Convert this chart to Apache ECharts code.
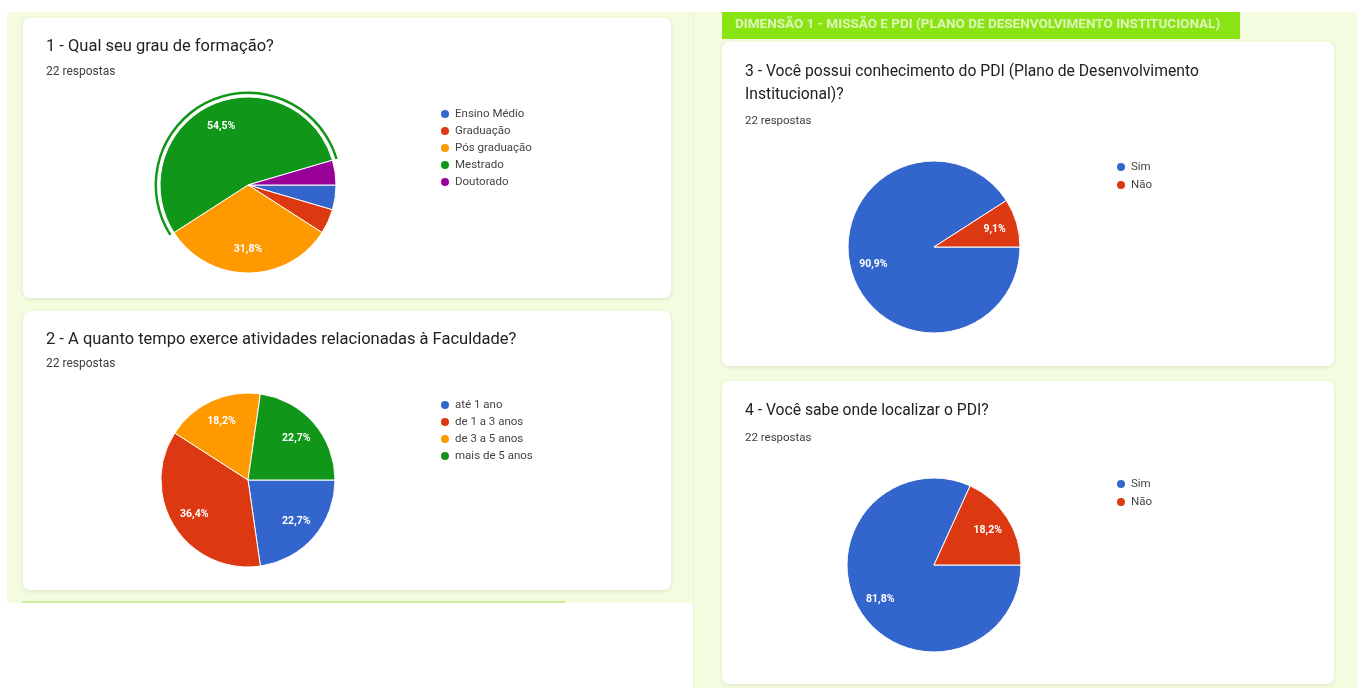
<!DOCTYPE html>
<html>
<head>
<meta charset="utf-8">
<script src="https://cdn.jsdelivr.net/npm/echarts@6/dist/echarts.min.js"></script>
<style>
html,body{margin:0;padding:0;background:#fff;}
#c{width:1357px;height:688px;}
</style>
</head>
<body>
<div id="c"></div>
<script>
// ---------- data ----------
const q1Title = '1 - Qual seu grau de formação?';
const q1Categories = ['Ensino Médio', 'Graduação', 'Pós graduação', 'Mestrado', 'Doutorado'];
const q1Values = [1, 1, 7, 12, 1];
const q1Highlighted = 'Mestrado';

const q2Title = '2 - A quanto tempo exerce atividades relacionadas à Faculdade?';
const q2Categories = ['até 1 ano', 'de 1 a 3 anos', 'de 3 a 5 anos', 'mais de 5 anos'];
const q2Values = [5, 8, 4, 5];

const sectionTitle = 'DIMENSÃO 1 - MISSÃO E PDI (PLANO DE DESENVOLVIMENTO INSTITUCIONAL)';

const q3Title = '3 - Você possui conhecimento do PDI (Plano de Desenvolvimento\nInstitucional)?';
const q3Categories = ['Sim', 'Não'];
const q3Values = [20, 2];

const q4Title = '4 - Você sabe onde localizar o PDI?';
const q4Categories = ['Sim', 'Não'];
const q4Values = [18, 4];

const responsesText = '22 respostas';

// ---------- styling ----------
const G_BLUE = '#3366cc', G_RED = '#dc3912', G_ORANGE = '#ff9900', G_GREEN = '#109618', G_PURPLE = '#990099';
const q1Colors = [G_BLUE, G_RED, G_ORANGE, G_GREEN, G_PURPLE];
const q2Colors = [G_BLUE, G_RED, G_ORANGE, G_GREEN];
const ynColors = [G_BLUE, G_RED];
const FONT = 'Roboto, "Noto Sans", Arial, sans-serif';

function toData(cats, vals, colors) {
  return cats.map((n, i) => ({ name: n, value: vals[i], itemStyle: { color: colors[i] } }));
}
function pctLabel(vals) {
  const total = vals.reduce((a, b) => a + b, 0);
  return function (p) {
    const pct = p.value / total * 100;
    if (pct < 5) return '';
    return pct.toFixed(1).replace('.', ',') + '%';
  };
}

function pieSeries(cats, vals, colors, center, R) {
  return [
    {
      type: 'pie', center: center, radius: [0, R], startAngle: 0, clockwise: true,
      data: toData(cats, vals, colors),
      label: { show: false }, labelLine: { show: false },
      itemStyle: { borderColor: '#ffffff', borderWidth: 1 },
      emphasis: { disabled: true }, animation: false, z: 3
    },
    {
      type: 'pie', center: center, radius: [R * 0.4, R], startAngle: 0, clockwise: true,
      data: toData(cats, vals, colors.map(() => 'rgba(0,0,0,0)')),
      silent: true, legendHoverLink: false,
      itemStyle: { borderWidth: 0 },
      label: {
        show: true, position: 'inside', formatter: pctLabel(vals),
        color: '#ffffff', fontSize: 10.5, fontWeight: 'bold', fontFamily: FONT
      },
      labelLine: { show: false },
      emphasis: { disabled: true }, animation: false, z: 4
    }
  ];
}

const P1 = { c: [248, 185], R: 88 };
const P2 = { c: [248, 480], R: 87 };
const P3 = { c: [934, 247], R: 86 };
const P4 = { c: [934, 565], R: 87 };

const ringSeries = {
  type: 'pie', center: P1.c, radius: [P1.R + 3, P1.R + 5.5], startAngle: 0, clockwise: true,
  data: q1Categories.map((n, i) => ({
    name: n, value: q1Values[i],
    itemStyle: { color: n === q1Highlighted ? G_GREEN : 'rgba(0,0,0,0)' }
  })),
  silent: true, legendHoverLink: false,
  label: { show: false }, labelLine: { show: false },
  itemStyle: { borderWidth: 0 },
  emphasis: { disabled: true }, animation: false, z: 3
};

function legend(cats, left, top, gap) {
  return {
    data: cats, left: left, top: top, orient: 'vertical', icon: 'circle', padding: 0,
    itemWidth: 10, itemHeight: 10, itemGap: gap, selectedMode: false,
    textStyle: { fontSize: 11.5, color: '#444', fontFamily: FONT, lineHeight: 13 }
  };
}

function card(x, y, w, h) {
  return {
    type: 'rect', shape: { x: x, y: y, width: w, height: h, r: 7 }, z: 1,
    style: { fill: '#ffffff', shadowBlur: 4, shadowColor: 'rgba(0,0,0,0.10)', shadowOffsetY: 1 }
  };
}
function txt(x, y, s, size, color, weight, lh) {
  return {
    type: 'text', x: x, y: y, z: 2,
    style: {
      text: s, fontSize: size, fill: color, fontFamily: FONT, fontWeight: weight || 'normal',
      verticalAlign: 'middle', align: 'left', lineHeight: lh || size * 1.3
    }
  };
}

const chart = echarts.init(document.getElementById('c'), null, { renderer: 'canvas' });
chart.setOption({
  backgroundColor: '#ffffff',
  animation: false,
  legend: [
    legend(q1Categories, 439, 107.5, 4),
    legend(q2Categories, 439, 398.5, 4),
    legend(q3Categories, 1115, 160.5, 5),
    legend(q4Categories, 1115, 477.5, 5)
  ],
  graphic: [
    // panel backgrounds
    { type: 'rect', shape: { x: 7, y: 12, width: 687, height: 591 }, z: 0, style: { fill: '#f3fcde' } },
    { type: 'rect', shape: { x: 694, y: 12, width: 663, height: 676 }, z: 0, style: { fill: '#f3fcde' } },
    { type: 'rect', shape: { x: 693, y: 12, width: 1, height: 676 }, z: 0, style: { fill: '#eaf6cf' } },
    { type: 'rect', shape: { x: 22, y: 601, width: 543, height: 2 }, z: 0, style: { fill: '#cfe89a' } },
    // section header
    { type: 'rect', shape: { x: 722, y: 12, width: 518, height: 27 }, z: 1, style: { fill: '#8ae313' } },
    txt(735, 25, sectionTitle, 13.5, 'rgba(255,255,255,0.7)', 'bold'),
    // cards
    card(23, 18, 648, 280),
    card(23, 311, 648, 279),
    card(722, 42, 612, 324),
    card(722, 381, 612, 303),
    // texts
    txt(46, 47, q1Title, 16.5, '#202124'),
    txt(46, 72, responsesText, 12, '#3c4043'),
    txt(46, 340, q2Title, 16.5, '#202124'),
    txt(46, 364, responsesText, 12, '#3c4043'),
    txt(745, 83.5, q3Title, 15.7, '#202124', 'normal', 23),
    txt(745, 121, responsesText, 11.5, '#3c4043'),
    txt(745, 411, q4Title, 15.7, '#202124'),
    txt(745, 438, responsesText, 11.5, '#3c4043')
  ],
  series: [
    ...pieSeries(q1Categories, q1Values, q1Colors, P1.c, P1.R),
    ...pieSeries(q2Categories, q2Values, q2Colors, P2.c, P2.R),
    ...pieSeries(q3Categories, q3Values, ynColors, P3.c, P3.R),
    ...pieSeries(q4Categories, q4Values, ynColors, P4.c, P4.R),
    ringSeries
  ]
});
</script>
</body>
</html>
